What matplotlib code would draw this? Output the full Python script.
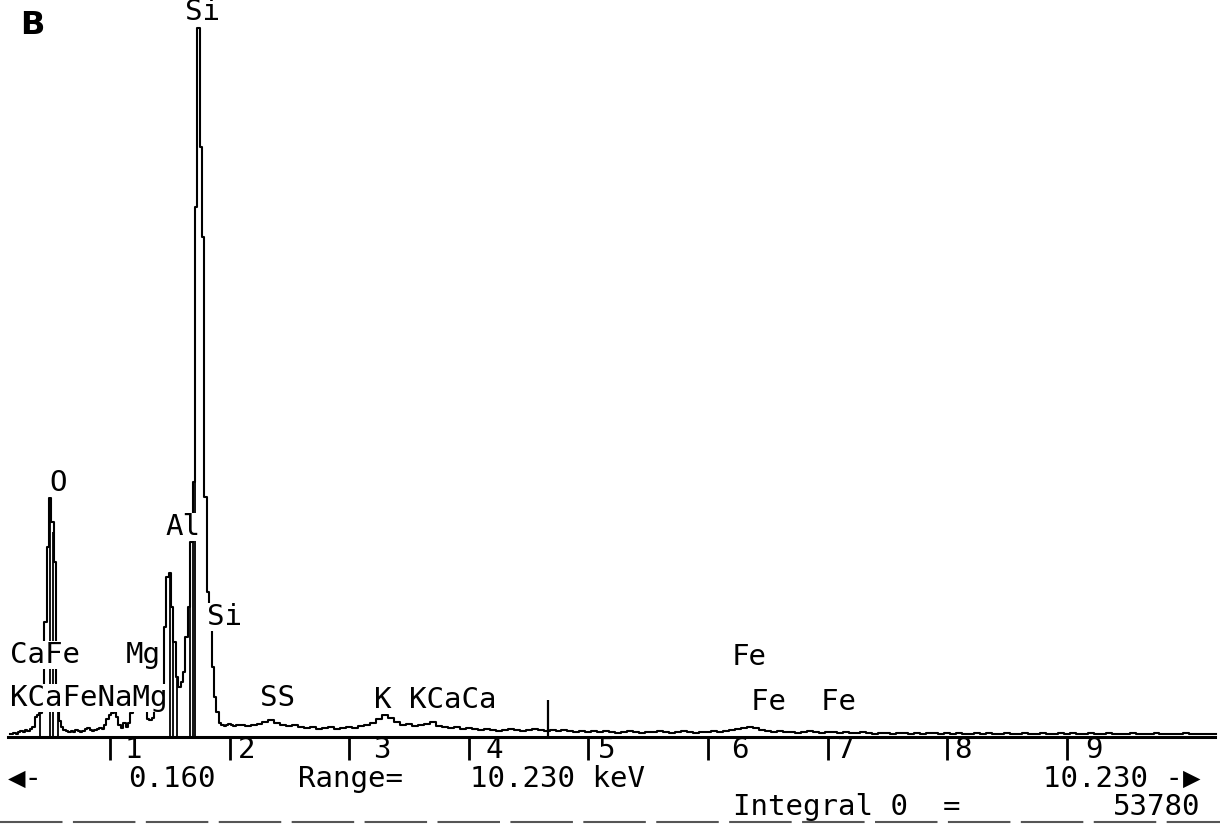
import numpy as np
import matplotlib.pyplot as plt

# EDX-Spektrum, 0.16 - 2.08 keV in 0.02-keV-Kanaelen
e_low = np.round(np.arange(0.16, 2.081, 0.02), 2)
c_low = [15, 15, 20, 15, 25, 30, 25, 35, 30, 40,
         50, 100, 110, 120, 200, 575, 950, 1195, 1075, 875,
         150, 80, 50, 35, 30, 25, 30, 25, 35, 30,
         25, 30, 40, 45, 35, 30, 35, 40, 45, 40,
         60, 90, 110, 120, 130, 100, 60, 45, 70, 50,
         70, 120, 150, 170, 190, 180, 160, 140, 90, 85,
         95, 140, 150, 175, 250, 550, 800, 820, 650, 475,
         300, 250, 275, 325, 500, 650, 975, 1275, 2650, 3545,
         2950, 2500, 1200, 725, 550, 350, 200, 125, 70, 60,
         55, 60, 65, 60, 55, 60, 60]

# 2.10 - 10.25 keV in 0.05-keV-Schritten
e_high = np.round(np.arange(2.10, 10.251, 0.05), 2)
c_high = [60, 55, 60, 65, 75, 85, 70, 60, 55, 60,
          50, 45, 50, 40, 45, 50, 40, 45, 50, 45,
          55, 60, 70, 90, 110, 95, 75, 60, 65, 55,
          60, 65, 75, 55, 50, 45, 50, 40, 45, 40,
          35, 40, 35, 30, 35, 40, 35, 30, 35, 40,
          35, 30, 35, 30, 35, 30, 25, 30, 25, 30,
          25, 30, 25, 20, 25, 30, 25, 20, 25, 25,
          30, 25, 20, 25, 30, 25, 20, 25, 25, 30,
          25, 30, 35, 40, 45, 50, 45, 35, 30, 25,
          30, 25, 25, 20, 25, 30, 25, 20, 25, 25,
          20, 25, 20, 20, 25, 20, 15, 20, 20, 15,
          20, 20, 15, 20, 15, 20, 20, 15, 20, 15,
          20, 15, 15, 20, 15, 20, 15, 15, 20, 15,
          15, 20, 15, 15, 20, 15, 15, 20, 15, 20,
          15, 15, 20, 15, 15, 20, 15, 15, 15, 20,
          15, 15, 15, 20, 15, 15, 15, 15, 20, 15,
          15, 15, 15, 15]

# senkrechte Striche bis zur Grundlinie in den Peaks
drop_kev = [0.415, 0.50, 0.525, 0.565, 1.50, 1.525, 1.56, 1.67, 1.695, 1.71]
# Cursor-Strich
cursor_kev = 4.66
cursor_counts = 185

tick_kev = [1, 2, 3, 4, 5, 6, 7, 8, 9]
tick_labels = ["1", "2", "3", "4", "5", "6", "7", "8", "9"]

energie = np.concatenate([e_low, e_high])
counts = np.array(c_low + c_high, dtype=float)


# Pixel -> Datenkoordinaten
def fx(x):
    return (x + 9.6) / 119.6


def fy(y):
    return 5 * (737 - y)


mono = ['DejaVu Sans Mono', 'DejaVu Sans']
fs = 21

fig = plt.figure(figsize=(12.2, 8.26), dpi=100)
ax = fig.add_axes([0, 0, 1, 1])
ax.set_xlim(fx(0), fx(1220))
ax.set_ylim(fy(826), fy(0))
ax.axis('off')

# Spektrum
ax.plot(energie, counts, drawstyle='steps-mid', color='black', lw=1.5, zorder=2)
ax.vlines(drop_kev, 0, np.interp(drop_kev, energie, counts), color='black', lw=1.3, zorder=2)
ax.vlines(cursor_kev, 0, cursor_counts, color='black', lw=1.6, zorder=2)

# Grundlinie und Skalenstriche
ax.plot([fx(8), fx(1215)], [0, 0], color='black', lw=2.2, zorder=3)
ax.vlines(tick_kev, fy(760), 0, color='black', lw=2, zorder=3)
for lab, xc in zip(tick_labels, [133, 247, 382, 494, 607, 740, 846, 963, 1094]):
    ax.text(fx(xc), fy(750), lab, family=mono, fontsize=fs, ha='center', va='center')

# Elementbeschriftungen (weisser Hintergrund verdeckt die Linien)
box = dict(facecolor='white', edgecolor='none', pad=0.3)
labels = [("Si", 185, 12), ("O", 49, 483), ("Al", 165, 527), ("Si", 207, 617),
          ("CaFe", 10, 655), ("Mg", 126, 655), ("Fe", 732, 657),
          ("KCaFeNaMg", 10, 698), ("SS", 260, 698), ("K KCaCa", 374, 700),
          ("Fe  Fe", 751, 702)]
for txt, x, y in labels:
    ax.text(fx(x), fy(y), txt, family=mono, fontsize=fs, ha='left', va='center',
            bbox=box, zorder=5)

# Fusszeilen
ax.text(fx(8), fy(779), "\u25c0-", family=mono, fontsize=fs, ha='left', va='center')
ax.text(fx(128), fy(779), "0.160", family=mono, fontsize=fs, ha='left', va='center')
ax.text(fx(298), fy(779), "Range=", family=mono, fontsize=fs, ha='left', va='center')
ax.text(fx(470), fy(779), "10.230 keV", family=mono, fontsize=fs, ha='left', va='center')
ax.text(fx(1200), fy(779), "10.230 -\u25b6", family=mono, fontsize=fs, ha='right', va='center')
ax.text(fx(733), fy(807), "Integral 0  =", family=mono, fontsize=fs, ha='left', va='center')
ax.text(fx(1200), fy(807), "53780", family=mono, fontsize=fs, ha='right', va='center')

# untere Trennlinie
ax.plot([fx(0), fx(1220)], [fy(822), fy(822)], color='#555555', lw=1.5,
        linestyle=(0, (30, 5)), zorder=1)

# Teilbild-Buchstabe
ax.text(fx(32), fy(25), "B", fontsize=23, fontweight='bold', ha='center', va='center')

plt.savefig('out.png', dpi=100)
